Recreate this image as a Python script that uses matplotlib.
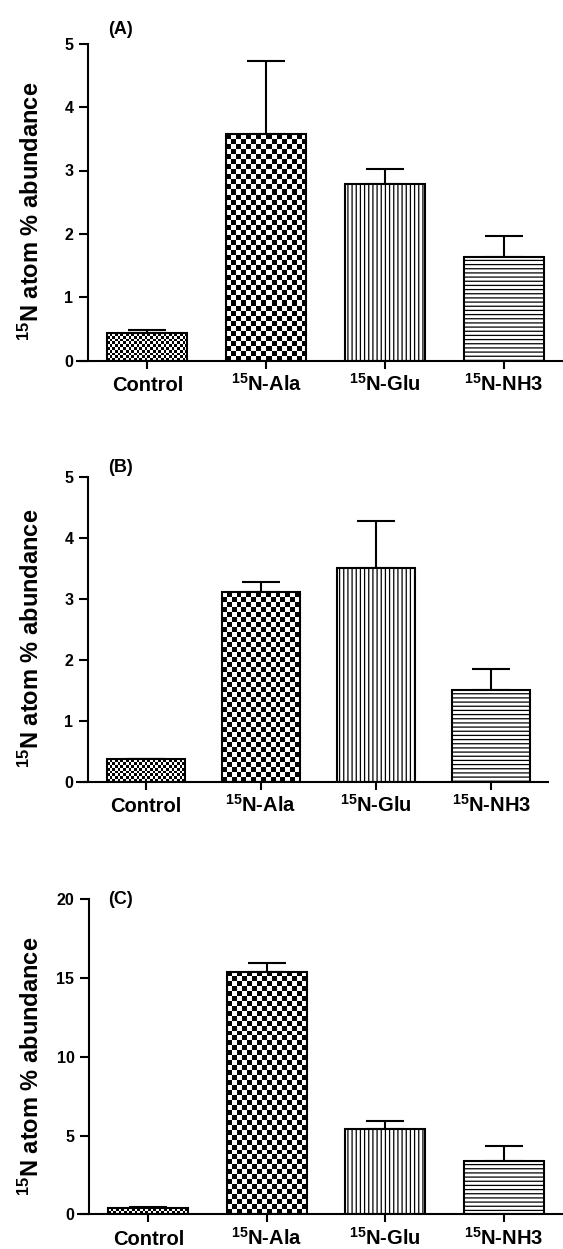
import numpy as np
import matplotlib
matplotlib.use('Agg')
import matplotlib.pyplot as plt

# ── fonts / style ───────────────────────────────────────────────
plt.rcParams['font.family'] = ['Liberation Sans', 'DejaVu Sans']
plt.rcParams['font.weight'] = 'bold'
plt.rcParams['mathtext.fontset'] = 'custom'
plt.rcParams['mathtext.rm'] = 'Liberation Sans:bold'
plt.rcParams['mathtext.it'] = 'Liberation Sans:bold'
plt.rcParams['mathtext.bf'] = 'Liberation Sans:bold'
plt.rcParams['hatch.linewidth'] = 0.9

# ── data ─────────────────────────────────────────────────────────
categories = ['Control', r'$^{15}$N-Ala', r'$^{15}$N-Glu', r'$^{15}$N-NH3']
ylabel = r'$^{15}$N atom % abundance'

means_a = [0.44, 3.57, 2.79, 1.64]
err_a = [0.05, 1.15, 0.23, 0.32]

means_b = [0.37, 3.11, 3.51, 1.51]
err_b = [0.0, 0.16, 0.77, 0.33]

means_c = [0.40, 15.41, 5.40, 3.39]
err_c = [0.09, 0.57, 0.55, 0.95]

yticks_ab = [0, 1, 2, 3, 4, 5]
yticks_c = [0, 5, 10, 15, 20]

# fill style per category: checker square size in px, or hatch
fills = [('checker', 2.7), ('checker', 5.0), ('hatch', '||||'), ('hatch', '----')]

W, H = 563, 1249
fig = plt.figure(figsize=(W / 100, H / 100), dpi=100)


def px_axes(left, right, top, bottom):
    return fig.add_axes([left / W, 1 - bottom / H, (right - left) / W, (bottom - top) / H])


def draw_panel(ax, means, errs, yticks, tag, tag_y, label_x_px):
    x = np.arange(len(means))
    ax.set_xlim(-0.5, 3.5)
    ax.set_ylim(yticks[0], yticks[-1])
    bars = ax.bar(x, means, width=0.675, facecolor='none', edgecolor='black',
                  linewidth=1.5, zorder=3)
    fig.canvas.draw()
    for b, (kind, val) in zip(bars, fills):
        x0, y0 = b.get_x(), b.get_y()
        x1, y1 = x0 + b.get_width(), y0 + b.get_height()
        if kind == 'checker':
            p0 = ax.transData.transform((x0, y0))
            p1 = ax.transData.transform((x1, y1))
            nx = max(1, int(round((p1[0] - p0[0]) / val)))
            ny = max(1, int(round((p1[1] - p0[1]) / val)))
            board = np.indices((ny, nx)).sum(axis=0) % 2
            ax.imshow(board, cmap='gray', extent=(x0, x1, y0, y1), origin='lower',
                      interpolation='nearest', aspect='auto', zorder=2)
        else:
            ax.bar(b.get_x() + b.get_width() / 2, b.get_height(), width=b.get_width(),
                   facecolor='white', edgecolor='black', linewidth=0, hatch=val, zorder=2)
    ax.set_xlim(-0.5, 3.5)
    ax.set_ylim(yticks[0], yticks[-1])
    ax.set_aspect('auto')

    ax.errorbar(x, means, yerr=[np.zeros(len(errs)), errs], fmt='none', ecolor='black',
                elinewidth=1.5, capsize=14, capthick=1.5, zorder=1)

    # axes styling (Prism-like)
    for s in ['top', 'right', 'bottom']:
        ax.spines[s].set_visible(False)
    ax.spines['left'].set_linewidth(1.5)
    ax.plot([-0.6, 3.5], [0, 0], color='black', lw=1.5, clip_on=False, zorder=4,
            solid_capstyle='butt')

    ax.set_yticks(yticks)
    ax.set_yticklabels([str(t) for t in yticks], fontsize=11.5, fontweight='bold')
    ax.set_xticks(x)
    ax.set_xticklabels(categories, fontsize=14.5, fontweight='bold')
    for lbl in ax.get_xticklabels():
        lbl.set_va('baseline')
    ax.tick_params(axis='y', direction='out', length=6.5, width=1.5, pad=4)
    ax.tick_params(axis='x', direction='out', length=5.8, width=1.5, pad=16)

    ax.set_ylabel(ylabel, fontsize=17, fontweight='bold')
    bb = ax.get_position()
    ax.yaxis.set_label_coords((label_x_px / W - bb.x0) / bb.width, 0.47)
    ax.text(108 / W, 1 - tag_y / H, tag, transform=fig.transFigure, fontsize=13,
            fontweight='bold', va='center', ha='left')


ax_a = px_axes(88, 563, 43.7, 360.7)
draw_panel(ax_a, means_a, err_a, yticks_ab, '(A)', 29, 44)

ax_b = px_axes(88, 549, 476.7, 781.7)
draw_panel(ax_b, means_b, err_b, yticks_ab, '(B)', 467, 44)

ax_c = px_axes(89, 563, 899.3, 1214.3)
draw_panel(ax_c, means_c, err_c, yticks_c, '(C)', 899, 44)

fig.savefig('out.png', dpi=100, facecolor='white')
